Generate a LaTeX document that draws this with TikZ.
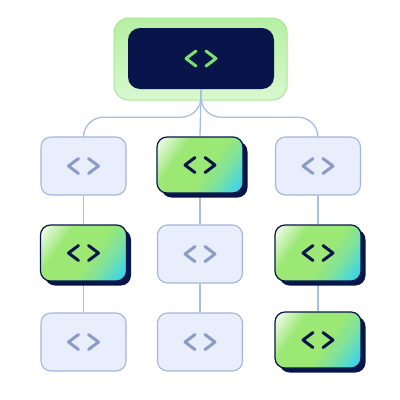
\documentclass[tikz,border=0pt]{standalone}
\usetikzlibrary{shadows,backgrounds}

\definecolor{navy}{HTML}{07154B}
\definecolor{paleblue}{HTML}{E8EEFC}
\definecolor{paleedge}{HTML}{A3B5DA}
\definecolor{iconpale}{HTML}{8C9CC8}
\definecolor{linkblue}{HTML}{A8BDE4}
\definecolor{halotop}{HTML}{B6EFA4}
\definecolor{halobot}{HTML}{D8F8CE}
\definecolor{haloedge}{HTML}{A6E596}
\definecolor{iconlime}{HTML}{7EE06C}
\definecolor{leafhi}{HTML}{E6F9DE}
\definecolor{leaf}{HTML}{9BE874}
\definecolor{leafmint}{HTML}{80E29C}
\definecolor{leafcyan}{HTML}{3FD5E6}

\pgfdeclarehorizontalshading{leafglow}{100bp}{color(0bp)=(white); color(19bp)=(leafhi);
  color(34bp)=(leaf); color(55bp)=(leaf); color(66bp)=(leafmint);
  color(80bp)=(leafcyan); color(100bp)=(leafcyan)}

\tikzset{
  leafbox/.style={rectangle, rounded corners=10pt, minimum width=85pt,
    minimum height=58pt, inner sep=0pt, fill=paleblue, draw=paleedge, line width=1.1pt},
  hotbox/.style={rectangle, rounded corners=10pt, minimum width=86pt,
    minimum height=56pt, inner sep=0pt, draw=navy, line width=1.2pt,
    shade, shading=leafglow, shading angle=-35,
    drop shadow={shadow xshift=4.5pt, shadow yshift=-4.5pt, fill=navy, opacity=1}},
  link/.style={draw=linkblue, line width=1.3pt},
  codeicon/.pic={
    \draw[line width=3pt, line cap=round, line join=round]
      (-5,7.5) -- (-15,0) -- (-5,-7.5)
      (5,7.5) -- (15,0) -- (5,-7.5);
  }
}

\begin{document}
\begin{tikzpicture}[x=1pt,y=1pt]
\useasboundingbox (0,0) rectangle (400,-400);
% hub at the top
\node[rectangle, rounded corners=15pt, minimum width=173pt, minimum height=82pt,
  top color=halotop, bottom color=halobot, draw=haloedge, line width=1pt]
  (halo) at (200.5,-59) {};
\node[rectangle, rounded corners=12pt, minimum width=146pt, minimum height=61pt,
  fill=navy] (hub) at (201,-58.5) {};
\pic[color=iconlime] at (hub) {codeicon};
% row 1
\node[leafbox] (l1) at (83.5,-166) {};
\node[hotbox]  (m1) at (200,-165)  {};
\node[leafbox] (r1) at (318,-166)  {};
% row 2
\node[hotbox]  (l2) at (83.5,-253) {};
\node[leafbox] (m2) at (200,-254)  {};
\node[hotbox]  (r2) at (318,-253)  {};
% row 3
\node[leafbox] (l3) at (83.5,-342) {};
\node[leafbox] (m3) at (200,-342)  {};
\node[hotbox]  (r3) at (318,-340)  {};
% icons
\foreach \n in {l1,r1,m2,l3,m3}
  \pic[color=iconpale] at (\n) {codeicon};
\foreach \n in {m1,l2,r2,r3}
  \pic[color=navy] at (\n) {codeicon};
% links from the hub
\draw[link, rounded corners=20pt] (hub.south) -- ++(0,-28) -| (l1.north);
\draw[link] (hub.south) -- (m1.north);
\draw[link, rounded corners=20pt] (hub.south) -- ++(0,-28) -| (r1.north);
% links down each column
\begin{scope}[on background layer]
\draw[link] (l1) -- (l2) -- (l3);
\draw[link] (m1) -- (m2) -- (m3);
\draw[link] (r1) -- (r2) -- (r3);
\end{scope}
\end{tikzpicture}
\end{document}
